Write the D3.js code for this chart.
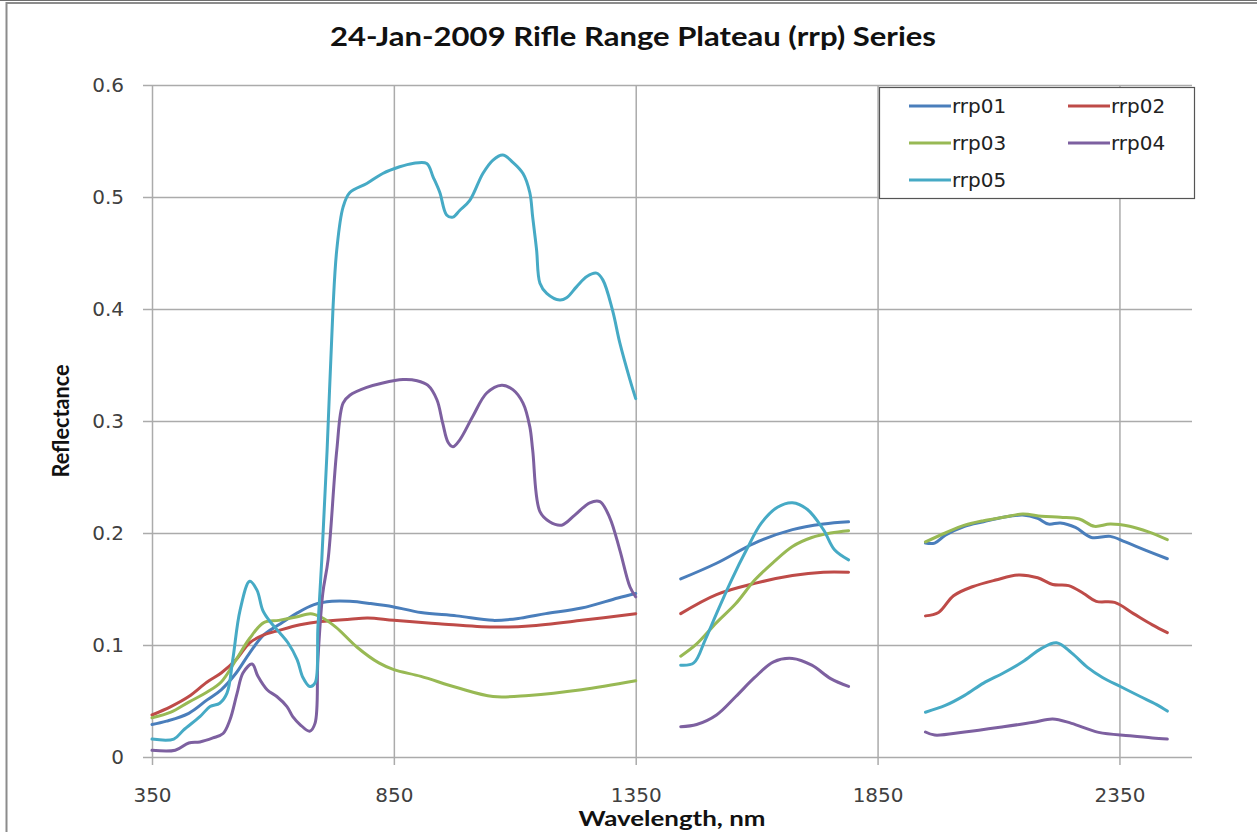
<!DOCTYPE html>
<html>
<head>
<meta charset="utf-8">
<script src="https://cdn.jsdelivr.net/npm/d3@7"></script>
<style>
  html, body { margin: 0; padding: 0; background: #fff; }
  svg { display: block; }
</style>
</head>
<body>
<svg id="chart" width="1257" height="832"></svg>
<script>
// Spectral reflectance, [wavelength nm, reflectance]; null marks a gap (water absorption bands)
const rrp01 = [
  [350,0.029],[380,0.032],[426,0.039],[464,0.051],[493,0.060],[524,0.075],[552,0.093],[581,0.109],
  [612,0.118],[648,0.128],[685,0.136],[722,0.139],[759,0.139],[802,0.137],[850,0.134],[906,0.129],
  [980,0.126],[1055,0.122],[1112,0.124],[1164,0.128],[1238,0.133],[1313,0.142],[1350,0.146],
  null,
  [1443,0.159],[1517,0.173],[1596,0.191],[1674,0.203],[1738,0.208],[1790,0.210],
  null,
  [1949,0.191],[1968,0.191],[1990,0.198],[2030,0.206],[2069,0.210],[2110,0.214],[2150,0.216],
  [2181,0.213],[2203,0.208],[2228,0.209],[2259,0.205],[2292,0.196],[2331,0.197],[2362,0.192],
  [2402,0.185],[2449,0.177]
];
const rrp02 = [
  [350,0.0375],[389,0.045],[426,0.054],[464,0.067],[493,0.075],[524,0.087],[552,0.102],[581,0.109],
  [612,0.113],[656,0.118],[699,0.121],[759,0.123],[796,0.124],[850,0.122],[943,0.119],[1055,0.116],
  [1129,0.117],[1238,0.122],[1350,0.128],
  null,
  [1443,0.128],[1517,0.145],[1596,0.155],[1674,0.162],[1738,0.165],[1790,0.165],
  null,
  [1949,0.126],[1976,0.129],[2007,0.144],[2046,0.152],[2094,0.158],[2141,0.1625],[2181,0.160],
  [2212,0.154],[2245,0.153],[2276,0.146],[2302,0.139],[2340,0.138],[2379,0.128],[2418,0.118],[2449,0.111]
];
const rrp03 = [
  [350,0.035],[389,0.040],[426,0.049],[464,0.058],[493,0.067],[524,0.087],[552,0.106],[581,0.120],
  [612,0.122],[648,0.125],[678,0.128],[699,0.125],[730,0.116],[774,0.098],[819,0.084],[850,0.078],
  [906,0.072],[980,0.062],[1055,0.054],[1129,0.055],[1238,0.060],[1350,0.068],
  null,
  [1443,0.090],[1476,0.101],[1517,0.120],[1557,0.137],[1596,0.158],[1635,0.174],[1674,0.188],
  [1714,0.196],[1753,0.200],[1790,0.202],
  null,
  [1949,0.192],[1990,0.200],[2030,0.207],[2069,0.211],[2110,0.214],[2150,0.217],[2189,0.215],
  [2228,0.214],[2267,0.2125],[2298,0.206],[2331,0.208],[2371,0.206],[2410,0.201],[2449,0.194]
];
const rrp04 = [
  [350,0.006],[398,0.006],[426,0.0125],[449,0.0134],[476,0.017],[497,0.021],[511,0.033],[526,0.057],
  [538,0.075],[557,0.083],[569,0.072],[588,0.060],[608,0.054],[629,0.045],[641,0.036],[656,0.029],
  [676,0.023],[687,0.030],[693,0.087],[703,0.146],[714,0.176],[732,0.274],[745,0.316],[759,0.323],
  [794,0.330],[827,0.334],[869,0.337],[898,0.336],[920,0.332],[939,0.319],[951,0.298],[962,0.281],
  [972,0.277],[986,0.283],[1013,0.304],[1042,0.325],[1073,0.332],[1096,0.328],[1117,0.316],
  [1131,0.295],[1137,0.274],[1152,0.219],[1172,0.210],[1197,0.207],[1224,0.216],[1255,0.227],
  [1276,0.228],[1296,0.214],[1317,0.185],[1338,0.152],[1350,0.143],
  null,
  [1443,0.027],[1476,0.029],[1517,0.0375],[1557,0.054],[1596,0.071],[1635,0.085],[1674,0.088],
  [1714,0.082],[1753,0.070],[1790,0.063],
  null,
  [1949,0.0223],[1968,0.0196],[2030,0.0223],[2110,0.027],[2172,0.031],[2212,0.034],[2251,0.030],
  [2307,0.022],[2371,0.019],[2418,0.017],[2449,0.016]
];
const rrp05 = [
  [350,0.016],[395,0.016],[415,0.024],[449,0.036],[470,0.045],[490,0.048],[505,0.057],[517,0.087],
  [532,0.131],[552,0.157],[567,0.149],[579,0.131],[594,0.121],[614,0.111],[631,0.102],[650,0.087],
  [662,0.071],[676,0.063],[687,0.066],[693,0.116],[701,0.176],[712,0.274],[724,0.399],[732,0.453],
  [745,0.491],[759,0.504],[794,0.512],[827,0.521],[862,0.527],[889,0.530],[918,0.530],[931,0.518],
  [945,0.504],[959,0.484],[972,0.482],[986,0.488],[1007,0.497],[1034,0.521],[1055,0.533],
  [1075,0.5375],[1096,0.531],[1117,0.521],[1131,0.504],[1137,0.482],[1145,0.453],[1152,0.423],
  [1166,0.414],[1193,0.408],[1207,0.410],[1228,0.420],[1249,0.429],[1269,0.432],[1282,0.426],
  [1302,0.399],[1317,0.370],[1338,0.337],[1350,0.320],
  null,
  [1443,0.082],[1470,0.084],[1493,0.104],[1517,0.128],[1548,0.158],[1579,0.185],[1610,0.209],
  [1643,0.223],[1674,0.227],[1705,0.221],[1738,0.203],[1761,0.185],[1790,0.176],
  null,
  [1949,0.040],[1990,0.046],[2030,0.055],[2069,0.066],[2110,0.075],[2150,0.085],[2189,0.097],
  [2220,0.102],[2251,0.093],[2284,0.080],[2315,0.071],[2354,0.0625],[2393,0.054],[2426,0.047],[2449,0.041]
];

const seriesNames = ["rrp01", "rrp02", "rrp03", "rrp04", "rrp05"];
const seriesData = [rrp01, rrp02, rrp03, rrp04, rrp05];
const seriesColors = ["#4a7ebb", "#be4b48", "#98b954", "#7d60a0", "#46aac5"];

const xTicks = [350, 850, 1350, 1850, 2350];
const yTicks = [0, 0.1, 0.2, 0.3, 0.4, 0.5, 0.6];
const yTickLabels = ["0", "0.1", "0.2", "0.3", "0.4", "0.5", "0.6"];

const titleText = "24-Jan-2009 Rifle Range Plateau (rrp) Series";
const xTitle = "Wavelength, nm";
const yTitle = "Reflectance";

// Layout
const plot = { left: 152, right: 1192, top: 85, bottom: 757 };
const gridColor = "#ababab";
const labelFont = "'DejaVu Sans', Verdana, sans-serif";
const titleFont = "Lato, 'Open Sans', sans-serif";

const svg = d3.select("#chart");

// Outer chart frame
svg.append("line").attr("x1", 0).attr("x2", 1257).attr("y1", 0.5).attr("y2", 0.5)
  .attr("stroke", "#6e6e6e").attr("stroke-width", 1);
svg.append("rect").attr("x", 6.5).attr("y", 3).attr("width", 1300).attr("height", 900)
  .attr("fill", "#fff").attr("stroke", "#8c8c8c").attr("stroke-width", 2);

const x = d3.scaleLinear().domain([350, 2500]).range([plot.left, plot.right]);
const y = d3.scaleLinear().domain([0, 0.6]).range([plot.bottom, plot.top]);

// Horizontal gridlines (with ticks extending left of the axis)
const yGrid = svg.append("g").attr("transform", `translate(${plot.left - 9},0)`)
  .call(d3.axisLeft(y).tickValues(yTicks).tickSize(-(plot.right - plot.left + 9)).tickFormat(""));
yGrid.select(".domain").remove();
yGrid.selectAll("line").attr("stroke", gridColor).attr("stroke-width", 1.5);

// Vertical gridlines (with ticks extending below the axis)
const xGrid = svg.append("g").attr("transform", `translate(0,${plot.bottom + 8})`)
  .call(d3.axisBottom(x).tickValues(xTicks).tickSize(-(plot.bottom - plot.top + 8)).tickFormat(""));
xGrid.select(".domain").remove();
xGrid.selectAll("line").attr("stroke", gridColor).attr("stroke-width", 1.5);

// Axis tick labels
const yAxis = svg.append("g").attr("transform", `translate(${plot.left},0)`)
  .call(d3.axisLeft(y).tickValues(yTicks).tickSize(0).tickPadding(28)
    .tickFormat((d, i) => yTickLabels[i]));
yAxis.select(".domain").remove();
yAxis.selectAll("text").attr("font-family", labelFont).attr("font-size", 20).attr("fill", "#404040");

const xAxis = svg.append("g").attr("transform", `translate(0,${plot.bottom})`)
  .call(d3.axisBottom(x).tickValues(xTicks).tickSize(0).tickPadding(31).tickFormat(d3.format("d")));
xAxis.select(".domain").remove();
xAxis.selectAll("text").attr("font-family", labelFont).attr("font-size", 20).attr("fill", "#404040");

// Series lines
const line = d3.line()
  .defined(d => d !== null)
  .x(d => x(d[0]))
  .y(d => y(d[1]))
  .curve(d3.curveCatmullRom.alpha(0.5));

svg.append("g").selectAll("path")
  .data(seriesData)
  .join("path")
  .attr("d", line)
  .attr("fill", "none")
  .attr("stroke", (d, i) => seriesColors[i])
  .attr("stroke-width", 3)
  .attr("stroke-linejoin", "round")
  .attr("stroke-linecap", "round");

// Titles
svg.append("text").attr("x", 633).attr("y", 46).attr("text-anchor", "middle")
  .attr("font-family", titleFont).attr("font-weight", "bold").attr("font-size", 27)
  .attr("textLength", 606).attr("lengthAdjust", "spacingAndGlyphs")
  .attr("fill", "#111").text(titleText);

svg.append("text").attr("x", (plot.left + plot.right) / 2).attr("y", 826).attr("text-anchor", "middle")
  .attr("font-family", titleFont).attr("font-weight", "bold").attr("font-size", 21)
  .attr("textLength", 187).attr("lengthAdjust", "spacingAndGlyphs")
  .attr("fill", "#111").text(xTitle);

svg.append("text").attr("transform", "translate(69,421) rotate(-90)").attr("text-anchor", "middle")
  .attr("font-family", titleFont).attr("font-weight", "bold").attr("font-size", 22)
  .attr("textLength", 113).attr("lengthAdjust", "spacingAndGlyphs")
  .attr("fill", "#111").text(yTitle);

// Legend
const legend = svg.append("g").attr("transform", "translate(879,87)");
legend.append("rect").attr("x", 0.5).attr("y", 0.5).attr("width", 315).attr("height", 111)
  .attr("fill", "#fff").attr("stroke", "#555").attr("stroke-width", 1.2);

const legendItems = legend.selectAll("g.item")
  .data(seriesNames)
  .join("g")
  .attr("class", "item")
  .attr("transform", (d, i) => `translate(${30 + (i % 2) * 159},${19 + Math.floor(i / 2) * 37})`);

legendItems.append("line").attr("x1", 0).attr("x2", 42).attr("y1", 0).attr("y2", 0)
  .attr("stroke", (d, i) => seriesColors[i]).attr("stroke-width", 3);
legendItems.append("text").attr("x", 43).attr("y", 7)
  .attr("font-family", labelFont).attr("font-size", 20).attr("fill", "#222")
  .text(d => d);
</script>
</body>
</html>
